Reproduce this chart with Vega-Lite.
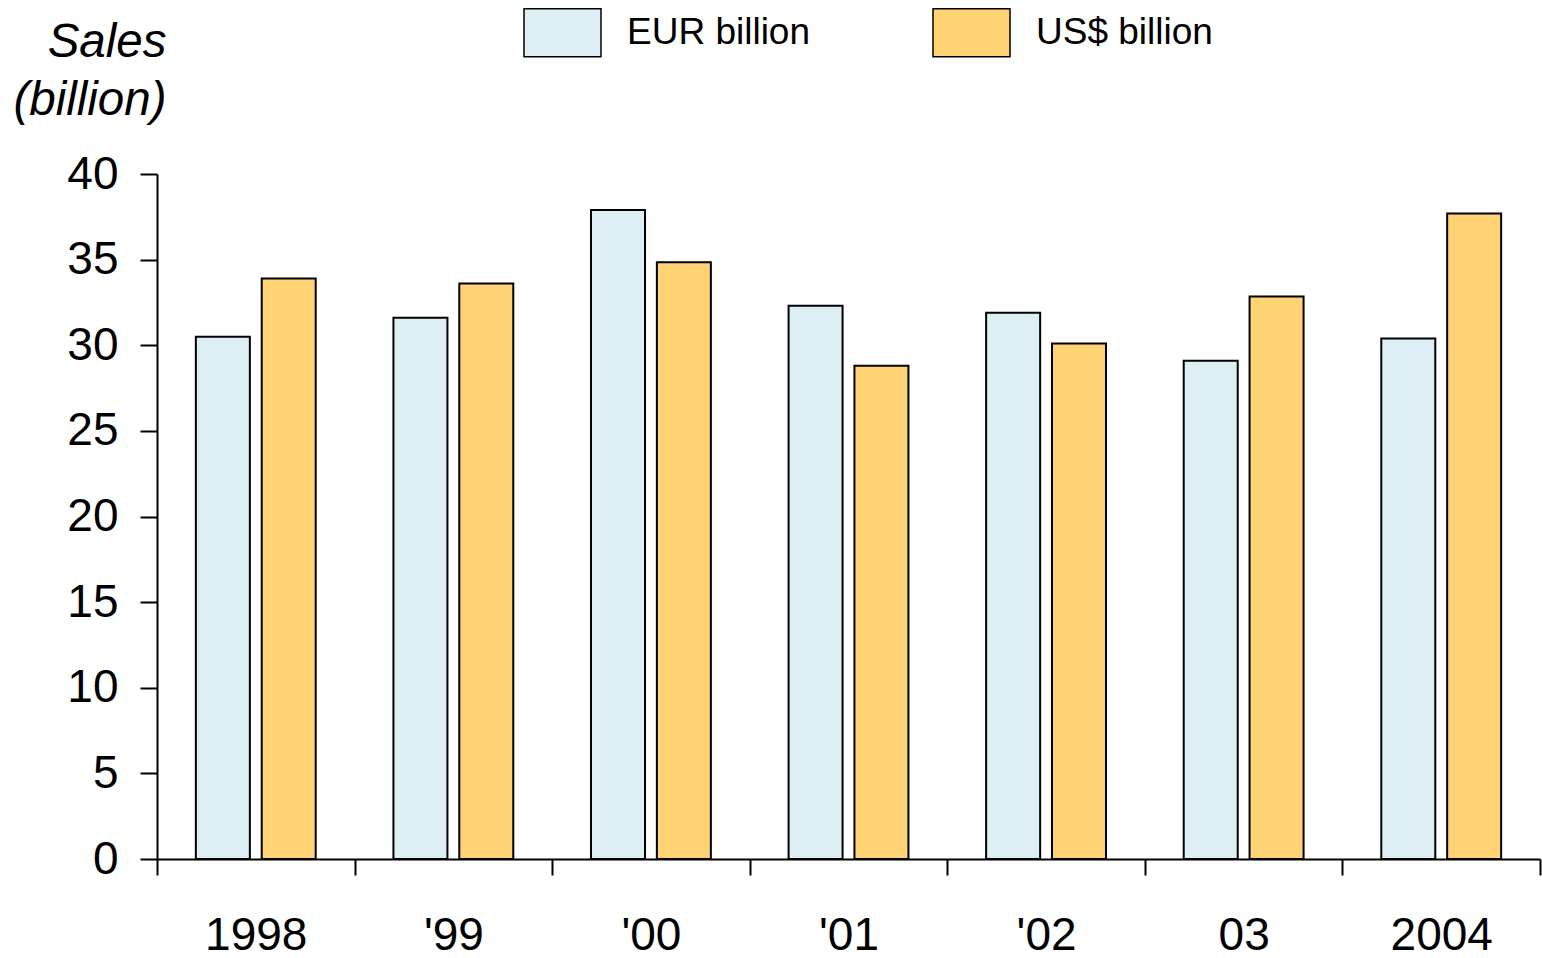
{
  "$schema": "https://vega.github.io/schema/vega-lite/v6.json",
  "autosize": "none",
  "width": 1383,
  "height": 685,
  "padding": {"left": 157, "top": 174, "right": 2, "bottom": 99},
  "background": "white",
  "data": {
    "values": [
      {"year": "1998", "currency": "EUR billion", "sales": 30.5},
      {"year": "1998", "currency": "US$ billion", "sales": 33.9},
      {"year": "'99", "currency": "EUR billion", "sales": 31.6},
      {"year": "'99", "currency": "US$ billion", "sales": 33.6},
      {"year": "'00", "currency": "EUR billion", "sales": 37.9},
      {"year": "'00", "currency": "US$ billion", "sales": 34.85},
      {"year": "'01", "currency": "EUR billion", "sales": 32.3},
      {"year": "'01", "currency": "US$ billion", "sales": 28.8},
      {"year": "'02", "currency": "EUR billion", "sales": 31.9},
      {"year": "'02", "currency": "US$ billion", "sales": 30.1},
      {"year": "03", "currency": "EUR billion", "sales": 29.1},
      {"year": "03", "currency": "US$ billion", "sales": 32.85},
      {"year": "2004", "currency": "EUR billion", "sales": 30.4},
      {"year": "2004", "currency": "US$ billion", "sales": 37.7}
    ]
  },
  "mark": {"type": "bar", "stroke": "black", "strokeWidth": 2},
  "encoding": {
    "x": {
      "field": "year",
      "type": "nominal",
      "sort": ["1998", "'99", "'00", "'01", "'02", "03", "2004"],
      "scale": {"paddingInner": 0, "paddingOuter": 0},
      "axis": {
        "title": null,
        "labelAngle": 0,
        "tickBand": "extent",
        "tickSize": 16,
        "tickWidth": 2,
        "tickColor": "black",
        "domainColor": "black",
        "domainWidth": 2,
        "labelFont": "Liberation Sans",
        "labelFontSize": 46,
        "labelColor": "black",
        "labelPadding": 38
      }
    },
    "xOffset": {
      "field": "currency",
      "type": "nominal",
      "scale": {"paddingInner": 0.18, "paddingOuter": 0.59}
    },
    "y": {
      "field": "sales",
      "type": "quantitative",
      "scale": {"domain": [0, 40], "nice": false},
      "axis": {
        "values": [0, 5, 10, 15, 20, 25, 30, 35, 40],
        "grid": false,
        "tickSize": 17,
        "tickWidth": 2,
        "tickColor": "black",
        "domainColor": "black",
        "domainWidth": 2,
        "labelFont": "Liberation Sans",
        "labelFontSize": 46,
        "labelColor": "black",
        "labelPadding": 22,
        "title": ["Sales", "(billion)"],
        "titleFont": "Liberation Sans",
        "titleFontSize": 47.5,
        "titleFontStyle": "italic",
        "titleFontWeight": "normal",
        "titleColor": "black",
        "titleAngle": 0,
        "titleAlign": "right",
        "titleBaseline": "alphabetic",
        "titleLineHeight": 58,
        "titleX": 9,
        "titleY": -118
      }
    },
    "color": {
      "field": "currency",
      "type": "nominal",
      "scale": {"domain": ["EUR billion", "US$ billion"], "range": ["#DDEEF5", "#FFD273"]},
      "legend": {
        "title": null,
        "orient": "none",
        "direction": "horizontal",
        "legendX": 366,
        "legendY": -181,
        "symbolType": "M-1,-0.623H1V0.623H-1Z",
        "symbolSize": 5929,
        "symbolStrokeColor": "black",
        "symbolStrokeWidth": 1.5,
        "symbolOpacity": 1,
        "labelFont": "Liberation Sans",
        "labelFontSize": 37,
        "labelColor": "black",
        "labelLimit": 0,
        "labelOffset": 25,
        "columnPadding": 119
      }
    }
  },
  "config": {"view": {"stroke": null}}
}
